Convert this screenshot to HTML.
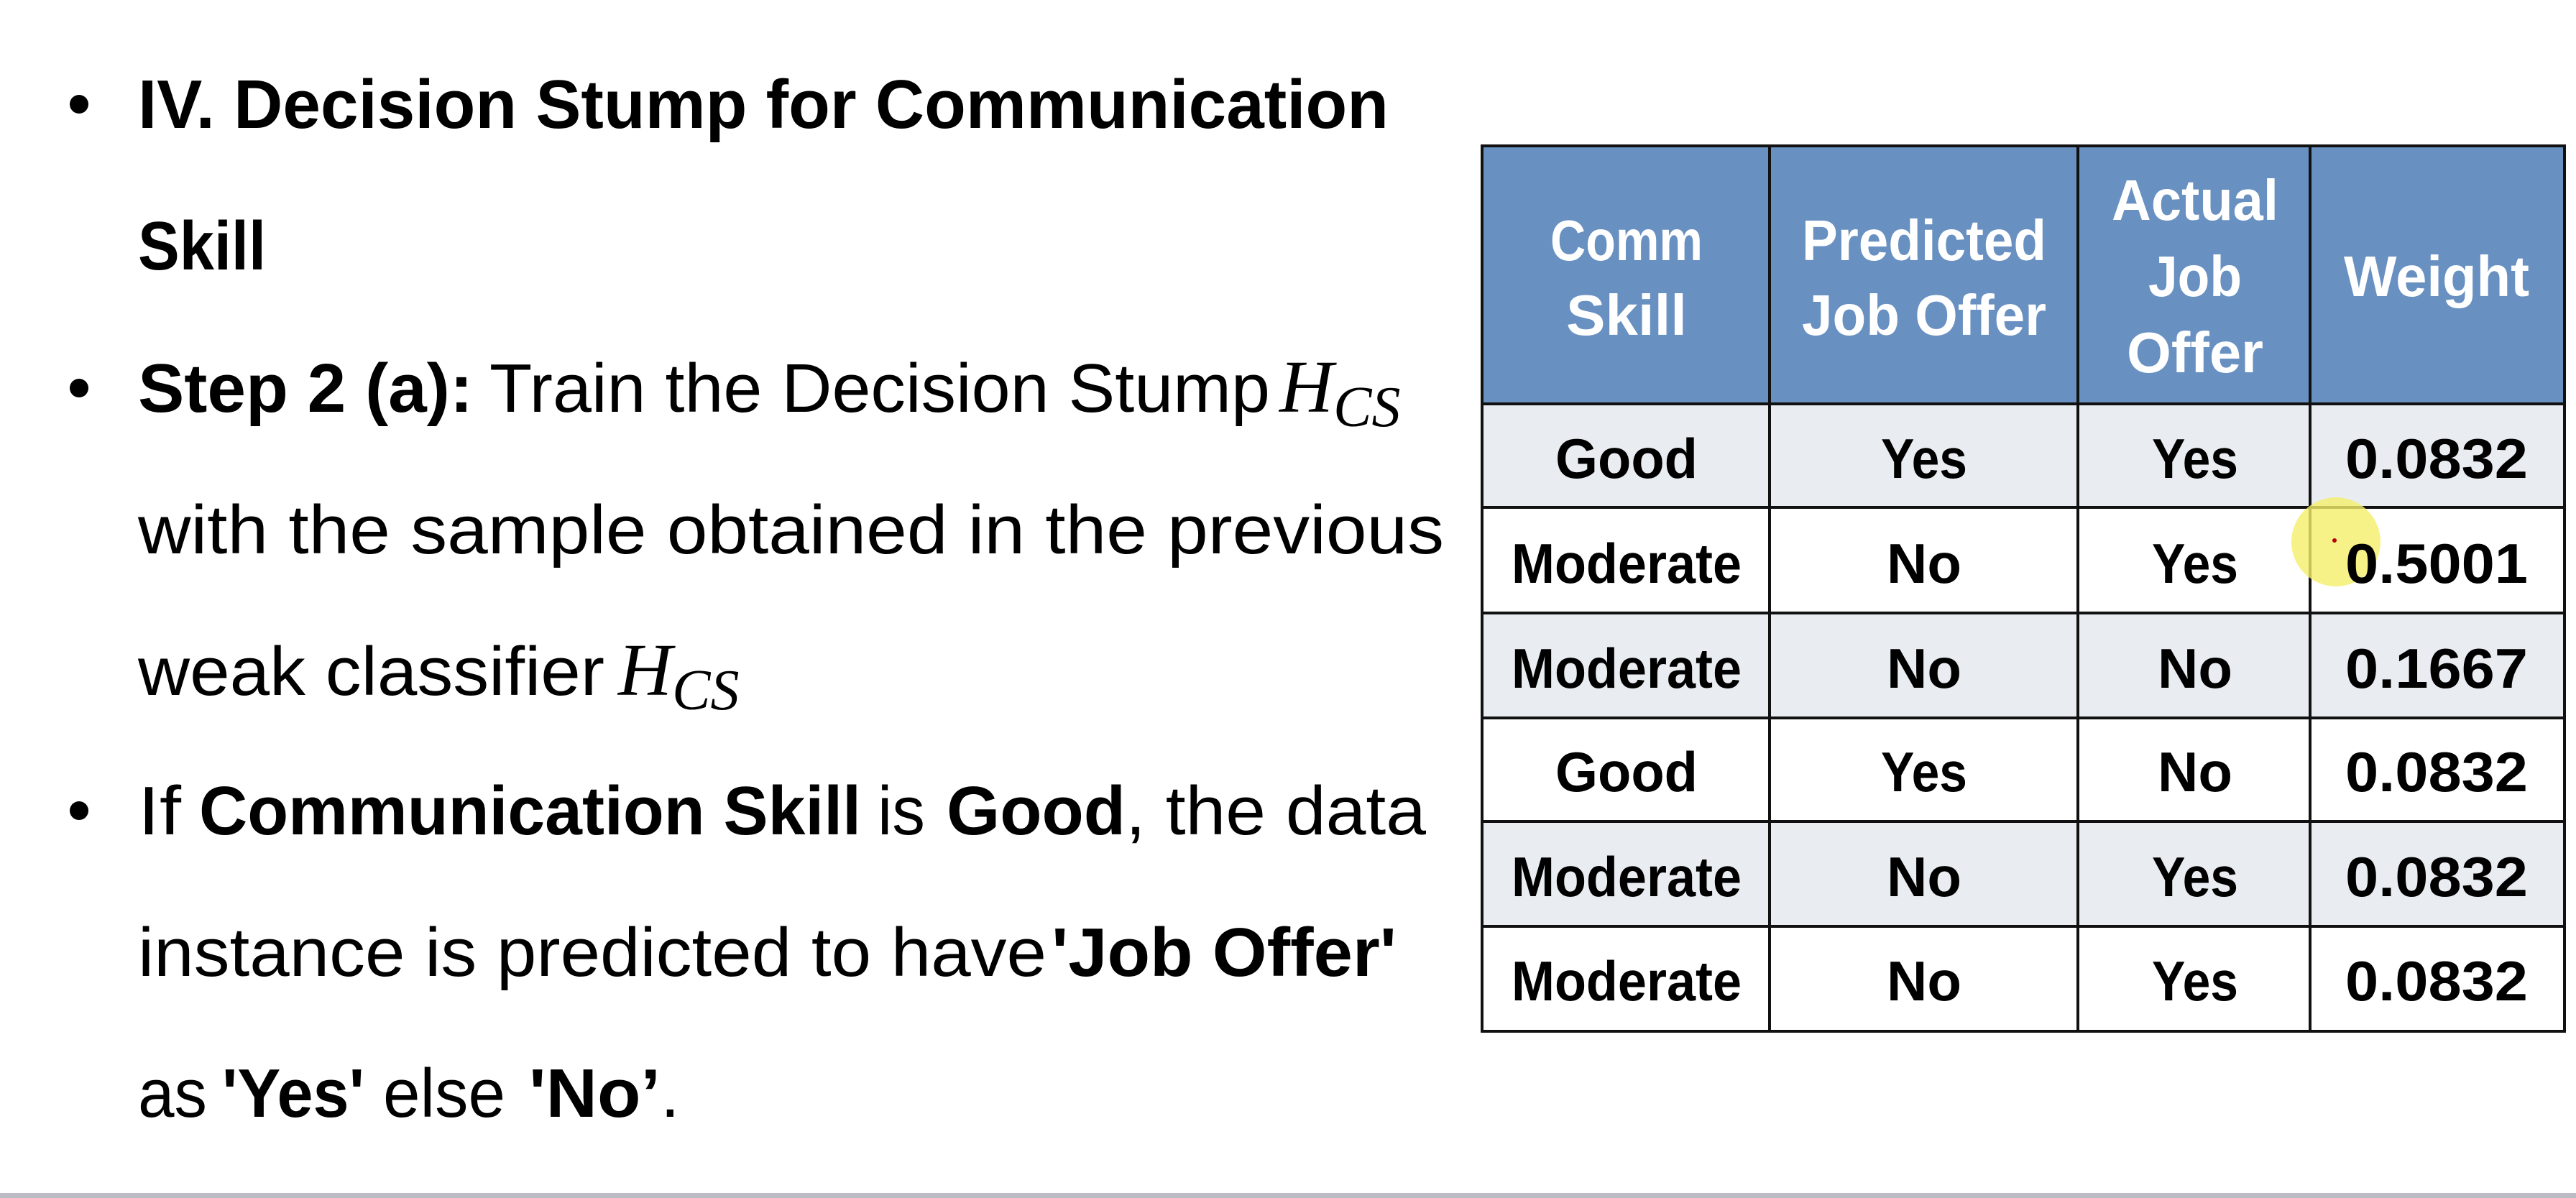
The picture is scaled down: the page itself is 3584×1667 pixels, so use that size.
<!DOCTYPE html>
<html><head><meta charset="utf-8"><style>
html,body{margin:0;padding:0;background:#fff;}
svg{display:block;}
text{font-family:"Liberation Sans",sans-serif;}
.b{font-weight:bold;}
.m{font-family:"Liberation Serif",serif;font-style:italic;}
</style></head><body>
<svg width="3584" height="1667" viewBox="0 0 3584 1667">
<rect x="0" y="0" width="3584" height="1667" fill="#fff"/>
<rect x="0" y="1660" width="3584" height="7" fill="#bcbcc4"/>
<g font-size="96" fill="#000">
 <circle cx="110" cy="145" r="13"/>
 <text x="192" y="178" class="b" textLength="1740" lengthAdjust="spacingAndGlyphs">IV. Decision Stump for Communication</text>
 <text x="192" y="375" class="b" textLength="178" lengthAdjust="spacingAndGlyphs">Skill</text>
 <circle cx="110" cy="540" r="13"/>
 <text x="192" y="573" class="b" textLength="466" lengthAdjust="spacingAndGlyphs">Step 2 (a):</text>
 <text x="681" y="573" textLength="1086" lengthAdjust="spacingAndGlyphs">Train the Decision Stump</text>
 <text x="1780" y="573" class="m" font-size="104">H<tspan font-size="80" dy="20">CS</tspan></text>
 <text x="192" y="770" textLength="1817" lengthAdjust="spacingAndGlyphs">with the sample obtained in the previous</text>
 <text x="192" y="967" textLength="649" lengthAdjust="spacingAndGlyphs">weak classifier</text>
 <text x="860" y="967" class="m" font-size="104">H<tspan font-size="80" dy="20">CS</tspan></text>
 <circle cx="110" cy="1128" r="13"/>
 <text x="192" y="1161" textLength="60" lengthAdjust="spacingAndGlyphs">If</text>
 <text x="277" y="1161" class="b" textLength="921" lengthAdjust="spacingAndGlyphs">Communication Skill</text>
 <text x="1221" y="1161" textLength="66" lengthAdjust="spacingAndGlyphs">is</text>
 <text x="1317" y="1161" class="b" textLength="249" lengthAdjust="spacingAndGlyphs">Good</text>
 <text x="1566" y="1161" textLength="418" lengthAdjust="spacingAndGlyphs">, the data</text>
 <text x="192" y="1358" textLength="1264" lengthAdjust="spacingAndGlyphs">instance is predicted to have</text>
 <text x="1463" y="1358" class="b" textLength="480" lengthAdjust="spacingAndGlyphs">'Job Offer'</text>
 <text x="192" y="1554" textLength="96" lengthAdjust="spacingAndGlyphs">as</text>
 <text x="309" y="1554" class="b" textLength="198" lengthAdjust="spacingAndGlyphs">'Yes'</text>
 <text x="533" y="1554" textLength="170" lengthAdjust="spacingAndGlyphs">else</text>
 <text x="736" y="1554" class="b" textLength="183" lengthAdjust="spacingAndGlyphs">'No’</text>
 <text x="919" y="1554">.</text>
</g>
<g>
 <rect x="2062" y="203" width="1506" height="359" fill="#6890c1"/>
 <rect x="2062" y="562" width="1506" height="144" fill="#e9edf2"/>
 <rect x="2062" y="853" width="1506" height="146" fill="#e9edf2"/>
 <rect x="2062" y="1143" width="1506" height="146" fill="#e9edf2"/>
 <g stroke="#111" stroke-width="4" fill="none">
  <rect x="2062" y="203" width="1506" height="1232"/>
  <line x1="2462" y1="203" x2="2462" y2="1435"/>
  <line x1="2891" y1="203" x2="2891" y2="1435"/>
  <line x1="3214" y1="203" x2="3214" y2="1435"/>
  <line x1="2062" y1="562" x2="3568" y2="562"/>
  <line x1="2062" y1="706" x2="3568" y2="706"/>
  <line x1="2062" y1="853" x2="3568" y2="853"/>
  <line x1="2062" y1="999" x2="3568" y2="999"/>
  <line x1="2062" y1="1143" x2="3568" y2="1143"/>
  <line x1="2062" y1="1289" x2="3568" y2="1289"/>
 </g>
 <g fill="#fff" font-size="80" text-anchor="middle" font-weight="bold">
  <text x="2263" y="362" textLength="212" lengthAdjust="spacingAndGlyphs">Comm</text><text x="2263" y="466" textLength="168" lengthAdjust="spacingAndGlyphs">Skill</text>
  <text x="2677" y="362" textLength="340" lengthAdjust="spacingAndGlyphs">Predicted</text><text x="2677" y="466" textLength="340" lengthAdjust="spacingAndGlyphs">Job Offer</text>
  <text x="3054" y="306" textLength="232" lengthAdjust="spacingAndGlyphs">Actual</text><text x="3054" y="412" textLength="130" lengthAdjust="spacingAndGlyphs">Job</text><text x="3054" y="518" textLength="190" lengthAdjust="spacingAndGlyphs">Offer</text>
  <text x="3390" y="412" textLength="258" lengthAdjust="spacingAndGlyphs">Weight</text>
 </g>
 <circle cx="3250" cy="754" r="62" fill="#f4ef6a" opacity="0.8"/>
 <circle cx="3248" cy="752" r="3" fill="#b00"/>
 <g fill="#000" font-size="78" font-weight="bold" text-anchor="middle">
  <text x="2263" y="665" textLength="198" lengthAdjust="spacingAndGlyphs">Good</text><text x="2677" y="665" textLength="120" lengthAdjust="spacingAndGlyphs">Yes</text><text x="3054" y="665" textLength="120" lengthAdjust="spacingAndGlyphs">Yes</text><text x="3390" y="665" textLength="254" lengthAdjust="spacingAndGlyphs">0.0832</text>
  <text x="2263" y="811" textLength="320" lengthAdjust="spacingAndGlyphs">Moderate</text><text x="2677" y="811" textLength="104" lengthAdjust="spacingAndGlyphs">No</text><text x="3054" y="811" textLength="120" lengthAdjust="spacingAndGlyphs">Yes</text><text x="3390" y="811" textLength="254" lengthAdjust="spacingAndGlyphs">0.5001</text>
  <text x="2263" y="957" textLength="320" lengthAdjust="spacingAndGlyphs">Moderate</text><text x="2677" y="957" textLength="104" lengthAdjust="spacingAndGlyphs">No</text><text x="3054" y="957" textLength="104" lengthAdjust="spacingAndGlyphs">No</text><text x="3390" y="957" textLength="254" lengthAdjust="spacingAndGlyphs">0.1667</text>
  <text x="2263" y="1101" textLength="198" lengthAdjust="spacingAndGlyphs">Good</text><text x="2677" y="1101" textLength="120" lengthAdjust="spacingAndGlyphs">Yes</text><text x="3054" y="1101" textLength="104" lengthAdjust="spacingAndGlyphs">No</text><text x="3390" y="1101" textLength="254" lengthAdjust="spacingAndGlyphs">0.0832</text>
  <text x="2263" y="1247" textLength="320" lengthAdjust="spacingAndGlyphs">Moderate</text><text x="2677" y="1247" textLength="104" lengthAdjust="spacingAndGlyphs">No</text><text x="3054" y="1247" textLength="120" lengthAdjust="spacingAndGlyphs">Yes</text><text x="3390" y="1247" textLength="254" lengthAdjust="spacingAndGlyphs">0.0832</text>
  <text x="2263" y="1392" textLength="320" lengthAdjust="spacingAndGlyphs">Moderate</text><text x="2677" y="1392" textLength="104" lengthAdjust="spacingAndGlyphs">No</text><text x="3054" y="1392" textLength="120" lengthAdjust="spacingAndGlyphs">Yes</text><text x="3390" y="1392" textLength="254" lengthAdjust="spacingAndGlyphs">0.0832</text>
 </g>
</g>
</svg>
</body></html>
